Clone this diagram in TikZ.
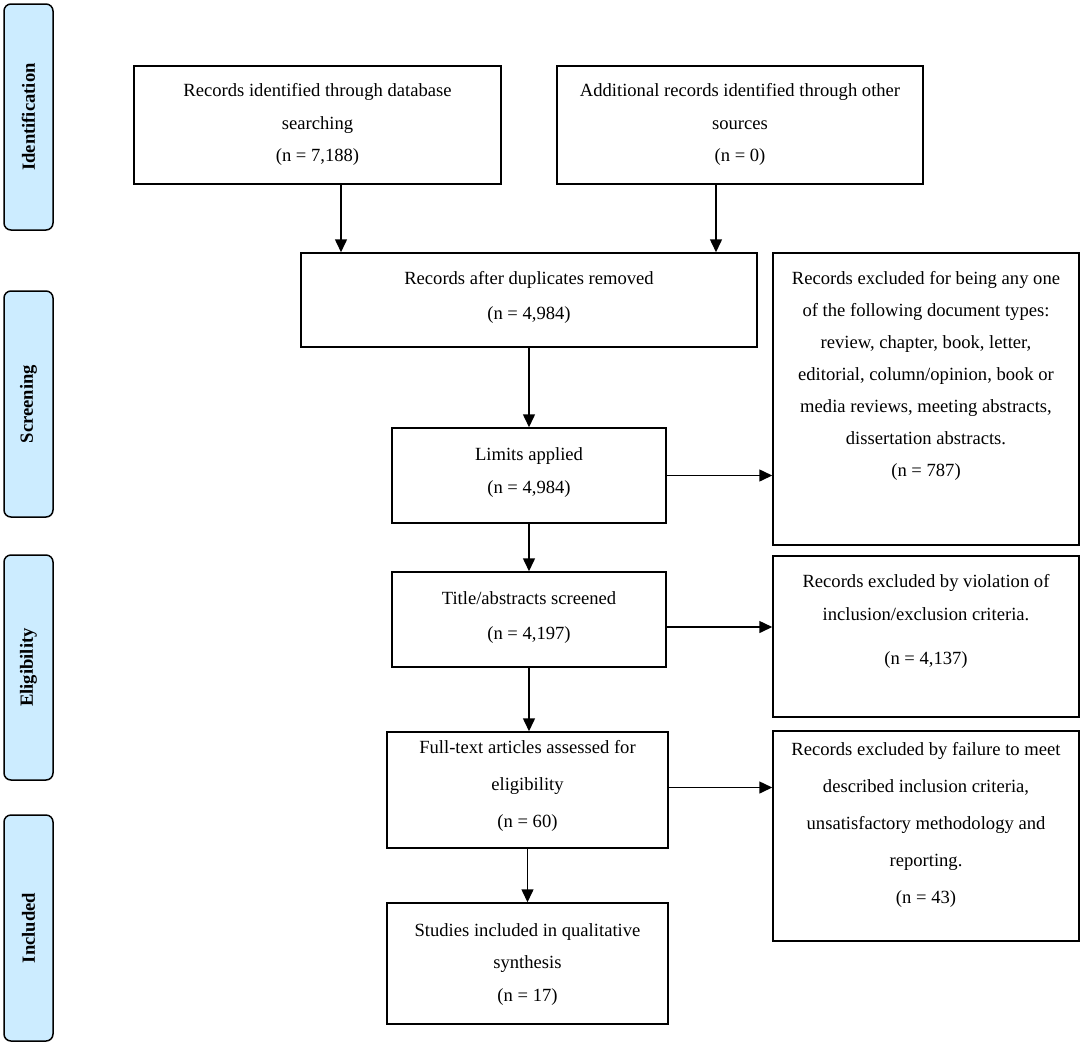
\documentclass[tikz,border=0pt]{standalone}
\usepackage{fontspec}
\setmainfont{Liberation Serif}
\usetikzlibrary{arrows.meta}
\definecolor{phase}{HTML}{CCECFF}
\tikzset{
  box/.style={draw=black, line width=1.5pt, rectangle, inner sep=0pt},
  txt/.style={align=center, inner sep=0pt, font=\fontsize{18.6}{#1}\selectfont},
  txt/.default=33,
  phasebox/.style={draw=black, line width=1.5pt, fill=phase, rounded corners=7pt, inner sep=0pt, minimum width=49pt},
  phasetxt/.style={rotate=90, inner sep=0pt, font=\fontsize{18.6}{22}\selectfont\bfseries},
  arr/.style={line width=1.5pt, -{Triangle[length=13pt,width=12pt]}},
}
\begin{document}
\begin{tikzpicture}[x=1pt, y=-1pt]
\useasboundingbox (0,0) rectangle (1084,1045);
% phase labels
\node[phasebox, minimum height=226pt] (pid) at (28.5,117) {};
\node[phasetxt] (pidt) at (pid.center) {Identification};
\node[phasebox, minimum height=226pt] (psc) at (28.5,404) {};
\node[phasetxt] (psct) at (psc.center) {Screening};
\node[phasebox, minimum height=225pt] (pel) at (28.5,667.5) {};
\node[phasetxt] (pelt) at (pel.center) {Eligibility};
\node[phasebox, minimum height=226pt] (pin) at (28.5,928) {};
\node[phasetxt] (pint) at (pin.center) {Included};
% boxes
\node[box, minimum width=367pt, minimum height=118pt] (b1) at (317.5,125) {};
\node[txt=32.5] (b1t) at (317.5,124.5) {Records identified through database\\searching\\(n = 7,188)};
\node[box, minimum width=366pt, minimum height=118pt] (b2) at (740,125) {};
\node[txt=32.5] (b2t) at (740,124.5) {Additional records identified through other\\sources\\(n = 0)};
\node[box, minimum width=456pt, minimum height=94pt] (b3) at (529,300) {};
\node[txt=35] (b3t) at (529,297.5) {Records after duplicates removed\\(n = 4,984)};
\node[box, minimum width=274pt, minimum height=95pt] (lim) at (529,475.5) {};
\node[txt=33] (limt) at (529,472.5) {Limits applied\\(n = 4,984)};
\node[box, minimum width=274pt, minimum height=95pt] (tit) at (529,619.5) {};
\node[txt=35] (titt) at (529,617.5) {Title/abstracts screened\\(n = 4,197)};
\node[box, minimum width=281pt, minimum height=116pt] (ft) at (527.5,790) {};
\node[txt=37] (ftt) at (527.5,785.5) {Full-text articles assessed for\\eligibility\\(n = 60)};
\node[box, minimum width=281pt, minimum height=121pt] (st) at (527.5,963.5) {};
\node[txt=32.5] (stt) at (527.5,964.5) {Studies included in qualitative\\synthesis\\(n = 17)};
% exclusion boxes
\node[box, minimum width=306pt, minimum height=292pt] (r1) at (926,399) {};
\node[txt=32] (r1t) at (926,376) {Records excluded for being any one\\of the following document types:\\review, chapter, book, letter,\\editorial, column/opinion, book or\\media reviews, meeting abstracts,\\dissertation abstracts.\\(n = 787)};
\node[box, minimum width=306pt, minimum height=161pt] (r2) at (926,636.5) {};
\node[txt=33] (r2t) at (926,621.5) {Records excluded by violation of\\inclusion/exclusion criteria.\\[11pt](n = 4,137)};
\node[box, minimum width=306pt, minimum height=210pt] (r3) at (926,836) {};
\node[txt=37] (r3t) at (926,825) {Records excluded by failure to meet\\described inclusion criteria,\\unsatisfactory methodology and\\reporting.\\(n = 43)};
% arrows
\draw[arr] ([xshift=23.5pt]b1.south) -- ([xshift=23.5pt]b1.south |- b3.north);
\draw[arr] ([xshift=-24pt]b2.south) -- ([xshift=-24pt]b2.south |- b3.north);
\draw[arr] (b3.south) -- (lim.north);
\draw[arr] (lim.east) -- (lim.east -| r1.west);
\draw[arr] (lim.south) -- (tit.north);
\draw[arr] ([yshift=-7.5pt]tit.east) -- ([yshift=-7.5pt]tit.east -| r2.west);
\draw[arr] (tit.south) -- (tit.south |- ft.north);
\draw[arr] ([yshift=2.5pt]ft.east) -- ([yshift=2.5pt]ft.east -| r3.west);
\draw[arr] (ft.south) -- (st.north);
\end{tikzpicture}
\end{document}
